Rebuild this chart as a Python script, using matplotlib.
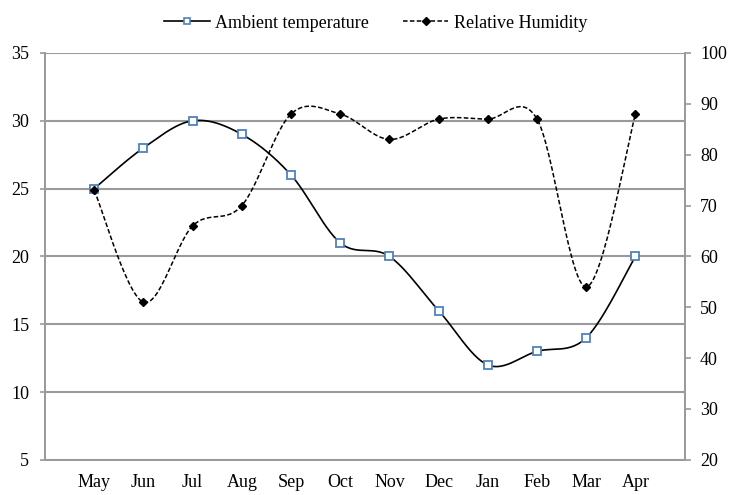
import numpy as np
import matplotlib
matplotlib.use("Agg")
import matplotlib.pyplot as plt
from matplotlib.lines import Line2D

plt.rcParams['font.family'] = ['Liberation Serif', 'DejaVu Serif']

# data
months = ['May', 'Jun', 'Jul', 'Aug', 'Sep', 'Oct', 'Nov', 'Dec', 'Jan', 'Feb', 'Mar', 'Apr']
temperature = [25, 28, 30, 29, 26, 21, 20, 16, 12, 13, 14, 20]
humidity = [73, 51, 66, 70, 88, 88, 83, 87, 87, 87, 54, 88]

GRID = '#9a9a9a'
BLUE = '#4f81bd'
FS = 13


def smooth(x, y, n=30):
    # Excel-style smoothed line: cubic bezier with 1/6 tangent control points
    x = np.asarray(x, float)
    y = np.asarray(y, float)
    px = np.concatenate([[x[0]], x, [x[-1]]])
    py = np.concatenate([[y[0]], y, [y[-1]]])
    xs, ys = [], []
    t = np.linspace(0, 1, n)
    for i in range(1, len(px) - 2):
        p0 = np.array([px[i], py[i]])
        p3 = np.array([px[i + 1], py[i + 1]])
        p1 = p0 + (np.array([px[i + 1], py[i + 1]]) - np.array([px[i - 1], py[i - 1]])) / 6
        p2 = p3 - (np.array([px[i + 2], py[i + 2]]) - np.array([px[i], py[i]])) / 6
        b = ((1 - t) ** 3)[:, None] * p0 + (3 * (1 - t) ** 2 * t)[:, None] * p1 \
            + (3 * (1 - t) * t ** 2)[:, None] * p2 + (t ** 3)[:, None] * p3
        xs.append(b[:, 0])
        ys.append(b[:, 1])
    return np.concatenate(xs), np.concatenate(ys)


fig = plt.figure(figsize=(7.31, 4.95), dpi=100)
ax = fig.add_axes([0.0616, 0.071, 0.875, 0.822])
ax2 = ax.twinx()

x = np.arange(len(months))

# gridlines
ax.set_ylim(5, 35)
ax.set_yticks(range(5, 36, 5))
ax.yaxis.grid(True, color=GRID, linewidth=1.5)
ax.set_axisbelow(True)
ax.set_xlim(-1, len(months))
ax.set_xticks(x)
ax.set_xticklabels(months, fontsize=FS)

# temperature
sx, sy = smooth(x, temperature)
ax.plot(sx, sy, color='black', linewidth=1.2, zorder=3)
ax.plot(x, temperature, linestyle='none', marker='s', markersize=5.5,
        markerfacecolor='white', markeredgecolor=BLUE, markeredgewidth=1.3, zorder=4)

# humidity
ax2.set_ylim(20, 100)
ax2.set_yticks(range(20, 101, 10))
hx, hy = smooth(x, humidity)
ax2.plot(hx, hy, color='black', linewidth=1.1, linestyle=(0, (3, 1.5)), zorder=3)
ax2.plot(x, humidity, linestyle='none', marker='D', markersize=4.5,
         color='black', zorder=4)

for a in (ax, ax2):
    for s in a.spines.values():
        s.set_color(GRID)
        s.set_linewidth(1.3)
    a.spines['top'].set_visible(False)
    a.tick_params(labelsize=FS, colors=GRID, labelcolor='black', width=1.2)
ax.tick_params(axis='x', length=0, pad=10)
ax.tick_params(axis='y', length=3.5, pad=8)
ax2.tick_params(axis='y', length=4, pad=7)

handles = [
    Line2D([], [], color='black', linewidth=1.2, marker='s', markersize=5,
           markerfacecolor='white', markeredgecolor=BLUE, markeredgewidth=1.2),
    Line2D([], [], color='black', linewidth=1.1, linestyle=(0, (3, 1.5)),
           marker='D', markersize=4, markerfacecolor='black', markeredgecolor='black'),
]
fig.legend(handles, ['Ambient temperature', 'Relative Humidity'],
           loc='center', bbox_to_anchor=(0.514, 0.953), ncol=2, frameon=False,
           fontsize=FS, handlelength=2.5, columnspacing=1.9, handletextpad=0.3)

fig.savefig('out.png', dpi=100)
